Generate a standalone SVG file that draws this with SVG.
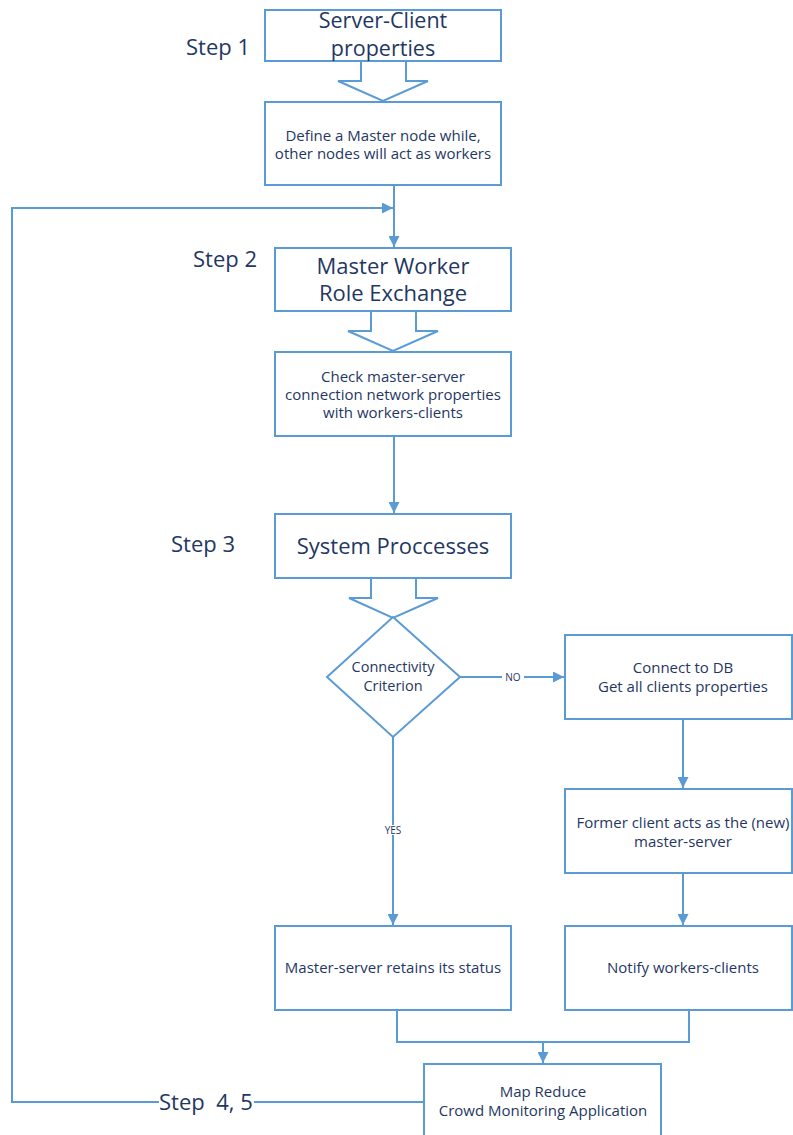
<svg xmlns="http://www.w3.org/2000/svg" width="793" height="1135" viewBox="0 0 793 1135">
<style>
.box{fill:#fff;stroke:#5B9BD5;stroke-width:2}
.conn{fill:none;stroke:#5B9BD5;stroke-width:2}
.t{font-family:"Open Sans","Liberation Sans",sans-serif;fill:#1F3763;text-anchor:middle}
.big{font-size:22px}
.sm{font-size:15px}
.lbl{font-family:"Open Sans","Liberation Sans",sans-serif;fill:#1F3763;font-size:10px;text-anchor:middle}
.step{font-family:"Open Sans","Liberation Sans",sans-serif;fill:#1F3763;font-size:22px}
</style>
<defs>
<marker id="ah" viewBox="0 0 10 10" refX="10" refY="5" markerWidth="5.5" markerHeight="5.5" orient="auto" markerUnits="strokeWidth">
<path d="M0,0 L10,5 L0,10 z" fill="#5B9BD5"/>
</marker>
</defs>
<rect width="793" height="1135" fill="#fff"/>

<g id="connectors">
<path class="conn" d="M394,185 V247" marker-end="url(#ah)"/>
<path class="conn" d="M424,1102 H254 M159,1102 H12 V208 H393" marker-end="url(#ah)"/>
<path class="conn" d="M394,436 V513" marker-end="url(#ah)"/>
<path class="conn" d="M460,677 H564" marker-end="url(#ah)"/>
<path class="conn" d="M393,737 V925" marker-end="url(#ah)"/>
<path class="conn" d="M683,719 V788" marker-end="url(#ah)"/>
<path class="conn" d="M683,873 V925" marker-end="url(#ah)"/>
<path class="conn" d="M397,1010 V1042 H689 V1010"/>
<path class="conn" d="M543,1042 V1063" marker-end="url(#ah)"/>
<rect x="502" y="672" width="22" height="10" fill="#fff"/>
<text class="lbl" x="513" y="681">NO</text>
<rect x="381" y="825" width="24" height="10" fill="#fff"/>
<text class="lbl" x="393" y="834">YES</text>
</g>

<g id="step1"><text class="step" x="186" y="55">Step 1</text></g>
<g id="step2"><text class="step" x="193" y="267">Step 2</text></g>
<g id="step3"><text class="step" x="171" y="552">Step 3</text></g>
<g id="step45"><text class="step" x="159" y="1110" xml:space="preserve">Step  4, 5</text></g>

<g id="n1">
<rect class="box" x="265" y="10" width="236" height="51"/>
<text class="t" font-size="21.5" x="383" y="28">Server-Client</text>
<text class="t" font-size="21.5" x="383" y="56">properties</text>
</g>
<g id="a1"><path class="conn" d="M361,61 V81 H338 L383,101 L428,81 H406 V61"/></g>

<g id="n2">
<rect class="box" x="265" y="102" width="236" height="83"/>
<text class="t sm" x="383" y="141">Define a Master node while,</text>
<text class="t sm" x="383" y="159">other nodes will act as workers</text>
</g>

<g id="n3">
<rect class="box" x="275" y="248" width="236" height="63"/>
<text class="t big" x="393" y="274">Master Worker</text>
<text class="t big" x="393" y="301">Role Exchange</text>
</g>
<g id="a2"><path class="conn" d="M371,311 V331 H348 L393,351 L438,331 H416 V311"/></g>

<g id="n4">
<rect class="box" x="275" y="352" width="236" height="84"/>
<text class="t sm" x="393" y="382">Check master-server</text>
<text class="t sm" x="393" y="400">connection network properties</text>
<text class="t sm" x="393" y="418">with workers-clients</text>
</g>

<g id="n5">
<rect class="box" x="275" y="514" width="236" height="64"/>
<text class="t big" x="393" y="554">System Proccesses</text>
</g>
<g id="a3"><path class="conn" d="M371,578 V598 H349 L393,618 L438,598 H416 V578"/></g>

<g id="n6">
<path class="box" d="M393,617 L460,677 L393,737 L327,677 Z"/>
<text class="t" font-size="14.5" x="393" y="672">Connectivity</text>
<text class="t" font-size="14.5" x="393" y="691">Criterion</text>
</g>

<g id="n7">
<rect class="box" x="565" y="635" width="227" height="84"/>
<text class="t sm" x="683" y="673">Connect to DB</text>
<text class="t sm" x="683" y="692">Get all clients properties</text>
</g>

<g id="n8">
<rect class="box" x="565" y="789" width="227" height="84"/>
<text class="t sm" x="683" y="828">Former client acts as the (new)</text>
<text class="t sm" x="683" y="847">master-server</text>
</g>

<g id="n9">
<rect class="box" x="565" y="926" width="227" height="84"/>
<text class="t sm" x="683" y="973">Notify workers-clients</text>
</g>

<g id="n10">
<rect class="box" x="275" y="926" width="236" height="84"/>
<text class="t sm" x="393" y="973">Master-server retains its status</text>
</g>

<g id="n11">
<rect class="box" x="424" y="1064" width="237" height="80"/>
<text class="t sm" x="543" y="1097">Map Reduce</text>
<text class="t sm" x="543" y="1116">Crowd Monitoring Application</text>
</g>
</svg>
